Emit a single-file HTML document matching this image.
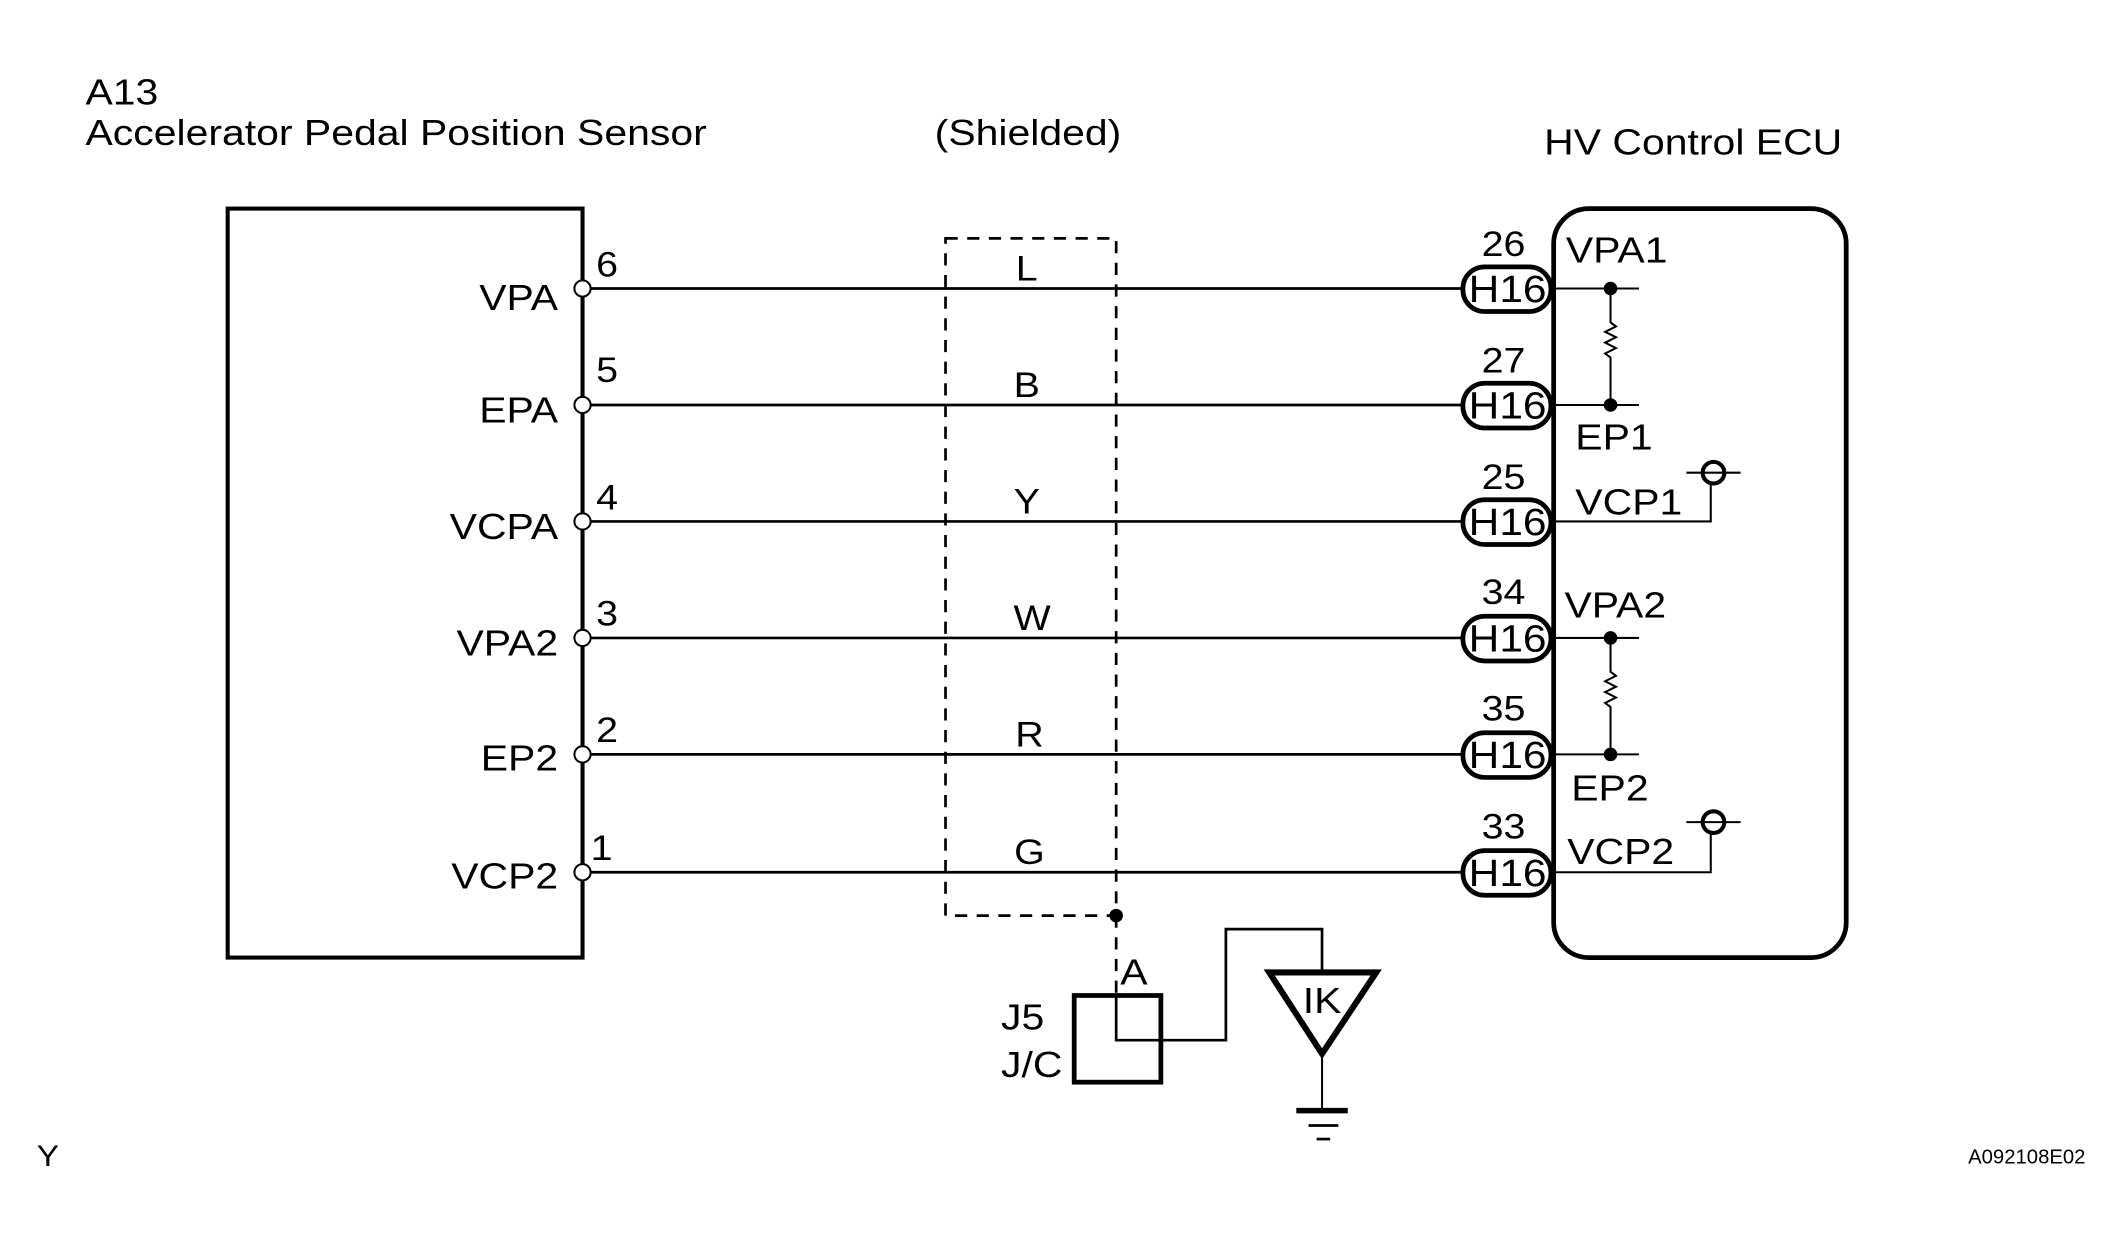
<!DOCTYPE html>
<html><head><meta charset="utf-8"><style>
html,body{margin:0;padding:0;background:#fff;}
svg{display:block;}
text{font-family:"Liberation Sans",Arial,sans-serif;fill:#000;transform-box:fill-box;transform:scaleX(1.12);transform-origin:left center;}
text[text-anchor="end"],g[text-anchor="end"] text{transform-origin:right center;}
text[text-anchor="middle"],g[text-anchor="middle"] text{transform-origin:center center;}
text.ns{transform:none;}
</style></head><body>
<svg width="2124" height="1242" viewBox="0 0 1568 917" xmlns="http://www.w3.org/2000/svg">
<rect width="1568" height="917" fill="#fff"/>
<g font-size="27">
<text x="63" y="77">A13</text>
<text x="63" y="107">Accelerator Pedal Position Sensor</text>
<text x="690" y="107">(Shielded)</text>
<text x="1140" y="114">HV Control ECU</text>
</g>
<rect x="168" y="154" width="262" height="553" fill="none" stroke="#000" stroke-width="3"/>
<rect x="698" y="176" width="126" height="500" fill="none" stroke="#000" stroke-width="2" stroke-dasharray="9,7"/>
<line x1="824" y1="676" x2="824" y2="735" stroke="#000" stroke-width="2" stroke-dasharray="9,7"/>
<circle cx="824" cy="676" r="5" fill="#000"/>
<rect x="1147" y="154" width="216" height="553" rx="26" fill="none" stroke="#000" stroke-width="3.5"/>
<g stroke="#000" stroke-width="2">
<line x1="430" y1="213" x2="1080" y2="213"/>
<line x1="430" y1="299" x2="1080" y2="299"/>
<line x1="430" y1="385" x2="1080" y2="385"/>
<line x1="430" y1="471" x2="1080" y2="471"/>
<line x1="430" y1="557" x2="1080" y2="557"/>
<line x1="430" y1="644" x2="1080" y2="644"/>
</g>
<g fill="#fff" stroke="#000" stroke-width="1.5">
<circle cx="430" cy="213" r="6"/><circle cx="430" cy="299" r="6"/><circle cx="430" cy="385" r="6"/>
<circle cx="430" cy="471" r="6"/><circle cx="430" cy="557" r="6"/><circle cx="430" cy="644" r="6"/>
</g>
<g font-size="26">
<text x="440" y="204">6</text><text x="440" y="282">5</text><text x="440" y="376">4</text>
<text x="440" y="462">3</text><text x="440" y="548">2</text><text x="436" y="635">1</text>
</g>
<g font-size="27" text-anchor="end">
<text x="412" y="229">VPA</text><text x="412" y="312">EPA</text><text x="412" y="398">VCPA</text>
<text x="412" y="484">VPA2</text><text x="412" y="569">EP2</text><text x="412" y="656">VCP2</text>
</g>
<g font-size="26" text-anchor="middle">
<text x="758" y="207">L</text><text x="758" y="293">B</text><text x="758" y="379">Y</text>
<text x="762" y="465">W</text><text x="760" y="551">R</text><text x="760" y="638">G</text>
</g>
<g fill="#fff" stroke="#000" stroke-width="3.5">
<rect x="1080" y="197" width="65" height="33" rx="16"/>
<rect x="1080" y="283" width="65" height="33" rx="16"/>
<rect x="1080" y="369" width="65" height="33" rx="16"/>
<rect x="1080" y="455" width="65" height="33" rx="16"/>
<rect x="1080" y="541" width="65" height="33" rx="16"/>
<rect x="1080" y="628" width="65" height="33" rx="16"/>
</g>
<g font-size="28" text-anchor="middle">
<text x="1113" y="223">H16</text><text x="1113" y="309">H16</text><text x="1113" y="395">H16</text>
<text x="1113" y="481">H16</text><text x="1113" y="567">H16</text><text x="1113" y="654">H16</text>
</g>
<g font-size="26" text-anchor="middle">
<text x="1110" y="189">26</text><text x="1110" y="275">27</text><text x="1110" y="361">25</text>
<text x="1110" y="446">34</text><text x="1110" y="532">35</text><text x="1110" y="619">33</text>
</g>
<g stroke="#000" stroke-width="1.5" fill="none">
<line x1="1147" y1="213" x2="1210" y2="213"/><line x1="1147" y1="299" x2="1210" y2="299"/>
<polyline points="1189,213 1189,238 1193,241 1185,245 1193,249 1185,253 1193,257 1185,261 1189,264 1189,299"/>
<line x1="1147" y1="471" x2="1210" y2="471"/><line x1="1147" y1="557" x2="1210" y2="557"/>
<polyline points="1189,471 1189,496 1193,499 1185,503 1193,507 1185,511 1193,515 1185,519 1189,522 1189,557"/>
<polyline points="1147,385 1263,385 1263,357"/>
<polyline points="1147,644 1263,644 1263,615"/>
<line x1="1245" y1="349" x2="1285" y2="349"/>
<line x1="1245" y1="607" x2="1285" y2="607"/>
</g>
<g fill="none" stroke="#000" stroke-width="3">
<circle cx="1265" cy="349" r="8"/><circle cx="1265" cy="607" r="8"/>
</g>
<g fill="#000">
<circle cx="1189" cy="213" r="5"/><circle cx="1189" cy="299" r="5"/>
<circle cx="1189" cy="471" r="5"/><circle cx="1189" cy="557" r="5"/>
</g>
<g font-size="27">
<text x="1156" y="194">VPA1</text><text x="1163" y="332">EP1</text><text x="1163" y="380">VCP1</text>
<text x="1155" y="456">VPA2</text><text x="1160" y="591">EP2</text><text x="1157" y="638">VCP2</text>
</g>
<rect x="793" y="735" width="64" height="64" fill="none" stroke="#000" stroke-width="3.5"/>
<polyline points="824,735 824,768 905,768 905,686 976,686 976,716" fill="none" stroke="#000" stroke-width="2"/>
<polygon points="937,718 1016,718 976,778" fill="none" stroke="#000" stroke-width="4.5"/>
<line x1="976" y1="780" x2="976" y2="820" stroke="#000" stroke-width="1.5"/>
<line x1="957" y1="820" x2="995" y2="820" stroke="#000" stroke-width="4"/>
<line x1="966" y1="831" x2="988" y2="831" stroke="#000" stroke-width="2"/>
<line x1="972" y1="841" x2="982" y2="841" stroke="#000" stroke-width="2"/>
<g font-size="27">
<text x="827" y="727">A</text>
<text x="739" y="760">J5</text>
<text x="739" y="795">J/C</text>
<text x="976" y="748" text-anchor="middle">IK</text>
</g>
<text x="27" y="861" font-size="22">Y</text>
<text class="ns" x="1453" y="859" font-size="15">A092108E02</text>
</svg>
</body></html>
